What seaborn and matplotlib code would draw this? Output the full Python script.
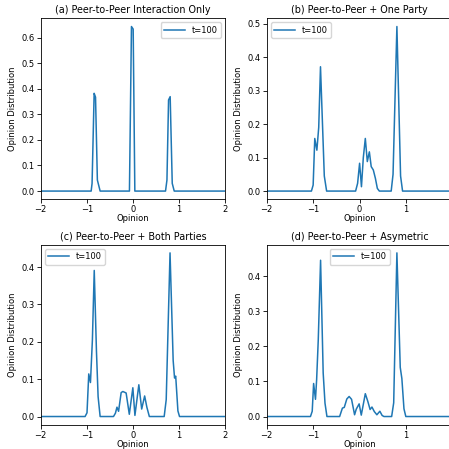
import matplotlib
matplotlib.use("Agg")
import matplotlib.pyplot as plt
import seaborn as sns
import pandas as pd

titles = ["(a) Peer-to-Peer Interaction Only", "(b) Peer-to-Peer + One Party",
          "(c) Peer-to-Peer + Both Parties", "(d) Peer-to-Peer + Asymetric"]
legend_label = "t=100"

# (a)
opinion_a = [-2.0, -0.905, -0.885, -0.84, -0.81, -0.77, -0.71,
             -0.074, -0.03, 0.007, 0.043,
             0.709, 0.74, 0.775, 0.81, 0.855, 0.898, 2.0]
dist_a = [0.0, 0.0, 0.03, 0.382, 0.367, 0.043, 0.0,
          0.0, 0.643, 0.633, 0.0,
          0.0, 0.043, 0.356, 0.369, 0.03, 0.0, 0.0]

# (b)
opinion_b = [-2.0, -1.037, -1.0, -0.965, -0.92, -0.88, -0.842, -0.76, -0.71,
             -0.086, -0.043, 0.0, 0.04, 0.08, 0.123, 0.166, 0.21, 0.25, 0.295, 0.34, 0.382, 0.425,
             0.68, 0.72, 0.803, 0.882, 0.925, 2.0]
dist_b = [0.0, 0.0, 0.018, 0.157, 0.122, 0.19, 0.371, 0.045, 0.0,
          0.0, 0.023, 0.083, 0.013, 0.10, 0.157, 0.088, 0.117, 0.073, 0.063, 0.038, 0.008, 0.0,
          0.0, 0.05, 0.491, 0.045, 0.0, 0.0]

# (c)
opinion_c = [-2.0, -1.037, -0.995, -0.957, -0.92, -0.878, -0.838, -0.79, -0.754, -0.71,
             -0.42, -0.378, -0.345, -0.31, -0.254, -0.217, -0.146, -0.077, 0.0, 0.045,
             0.13, 0.192, 0.256, 0.304, 0.358,
             0.68, 0.724, 0.807, 0.875, 0.905, 0.93, 0.978, 1.013, 2.0]
dist_c = [0.0, 0.0, 0.01, 0.114, 0.091, 0.205, 0.391, 0.175, 0.053, 0.0,
          0.0, 0.009, 0.025, 0.014, 0.064, 0.067, 0.063, 0.006, 0.077, 0.003,
          0.085, 0.02, 0.055, 0.025, 0.0,
          0.0, 0.045, 0.438, 0.15, 0.103, 0.108, 0.015, 0.0, 0.0]

# (d)
opinion_d = [-2.0, -1.058, -1.02, -0.99, -0.95, -0.925, -0.89, -0.84, -0.784, -0.745, -0.703,
             -0.43, -0.37, -0.33, -0.275, -0.225, -0.173, -0.108, -0.072, -0.01, 0.036,
             0.123, 0.177, 0.226, 0.266, 0.317, 0.372, 0.436, 0.485, 0.525,
             0.69, 0.734, 0.803, 0.875, 0.91, 0.955, 0.995, 2.0]
dist_d = [0.0, 0.0, 0.015, 0.094, 0.049, 0.105, 0.218, 0.445, 0.124, 0.038, 0.0,
          0.0, 0.024, 0.026, 0.05, 0.057, 0.049, 0.005, 0.021, 0.036, 0.004,
          0.065, 0.043, 0.02, 0.027, 0.014, 0.005, 0.015, 0.003, 0.0,
          0.0, 0.039, 0.466, 0.14, 0.108, 0.022, 0.0, 0.0]

series = [(opinion_a, dist_a), (opinion_b, dist_b), (opinion_c, dist_c), (opinion_d, dist_d)]
legend_locs = ["upper right", "upper left", "upper left", "upper center"]
xticks_full = [-2, -1, 0, 1, 2]
xticks_cut = [-2, -1, 0, 1]
panel_xticks = [xticks_full, xticks_cut, xticks_full, xticks_cut]

fig = plt.figure(figsize=(4.49, 4.49), dpi=100)
W = H = 449.0
# axes boxes in pixels: left, top, right, bottom
boxes = [(40.7, 18.3, 225.0, 199.3), (266.7, 18.3, 452.5, 199.3),
         (40.7, 244.7, 225.0, 424.7), (266.7, 244.7, 452.5, 424.7)]
fs_tick = 6.0
fs_label = 6.0
fs_title = 6.9
for i, ((l, t, r, b), (xs, ys)) in enumerate(zip(boxes, series)):
    ax = fig.add_axes([l / W, 1 - b / H, (r - l) / W, (b - t) / H])
    df = pd.DataFrame({"Opinion": xs, "Opinion Distribution": ys})
    sns.lineplot(data=df, x="Opinion", y="Opinion Distribution", ax=ax,
                 label=legend_label, color="#1f77b4", linewidth=1.1)
    ax.set_xlim(-2, 2)
    ax.set_xticks(panel_xticks[i])
    ax.set_title(titles[i], fontsize=fs_title, pad=3.5)
    ax.set_xlabel("Opinion", fontsize=fs_label, labelpad=0.0)
    ax.set_ylabel("Opinion Distribution", fontsize=fs_label, labelpad=3)
    ax.tick_params(labelsize=fs_tick, length=2.8, width=0.6, pad=1.6)
    for s in ax.spines.values():
        s.set_linewidth(0.6)
    ax.legend(loc=legend_locs[i], fontsize=fs_tick, handlelength=2.5,
              borderpad=0.4, framealpha=0.8)

fig.savefig("out.png", dpi=100)
